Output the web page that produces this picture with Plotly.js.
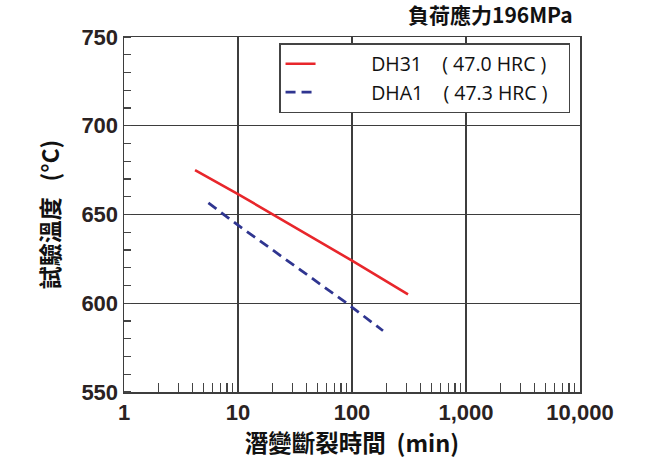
<!DOCTYPE html>
<html><head><meta charset="utf-8">
<script src="https://cdn.plot.ly/plotly-3.0.1.min.js"></script>
<style>html,body{margin:0;padding:0;background:#fff}</style>
</head><body>
<div id="chart" style="width:655px;height:468px"></div>
<script>
const NB = n => "\u00a0".repeat(n);
const seriesNames = [NB(10) + "DH31" + NB(4) + "( 47.0 HRC )" + NB(3), NB(10) + "DHA1" + NB(4) + "( 47.3 HRC )" + NB(3)];
const dh31Time = [4.2, 10, 100, 310];
const dh31Temp = [675, 661.5, 624, 605];
const dha1Time = [5.5, 10, 90, 187];
const dha1Temp = [656.5, 644, 600, 584.5];
const xTickVals = [1, 10, 100, 1000, 10000];
const xTickText = ["1", "10", "100", "1,000", "10,000"];
const yTickVals = [550, 600, 650, 700, 750];

const minorX = [];
for (let d = 1; d < 10000; d *= 10) for (let k = 2; k <= 9; k++) minorX.push(d * k);

const numFont = {family: "Liberation Sans, Arial, sans-serif", size: 22, color: "#2a2222", weight: "bold"};
const cjk = "Noto Sans CJK TC, Noto Sans CJK SC, sans-serif";

const traces = [
  {x: dh31Time, y: dh31Temp, name: seriesNames[0], mode: "lines", legendgroup: "a",
   line: {color: "#e8262b", width: 2.6}},
  {x: dha1Time, y: dha1Temp, name: seriesNames[1], mode: "lines", legendgroup: "b",
   line: {color: "#2f3590", width: 2.8, dash: "10px,6px"}}
];

const layout = {
  width: 655, height: 468,
  margin: {l: 124, r: 75, t: 37, b: 76},
  paper_bgcolor: "#fff", plot_bgcolor: "#fff",
  showlegend: true,
  legend: {x: 0.34, y: 0.983, xanchor: "left", yanchor: "top",
           bordercolor: "#444", borderwidth: 1.5, bgcolor: "#fff",
           font: {family: "Open Sans, Noto Sans, sans-serif", size: 19.5, color: "#111"},
           traceorder: "grouped", tracegroupgap: 0},
  xaxis: {type: "log", range: [0, 4], tickmode: "array", tickvals: xTickVals, ticktext: xTickText,
          ticks: "", showgrid: true, gridcolor: "#3d3d3d", gridwidth: 1.3,
          showline: true, mirror: true, linecolor: "#3d3d3d", linewidth: 1.5,
          tickfont: numFont, zeroline: false,
          minor: {tickmode: "array", tickvals: minorX, ticks: "inside", ticklen: 9, tickcolor: "#444", tickwidth: 1.2, showgrid: false},
          title: {text: "潛變斷裂時間" + NB(2) + "(min)", font: {family: cjk, size: 23.5, color: "#111", weight: "bold"}, standoff: 9}},
  yaxis: {range: [550, 750], tickmode: "array", tickvals: yTickVals,
          ticks: "", showgrid: true, gridcolor: "#3d3d3d", gridwidth: 1.3,
          showline: true, mirror: true, linecolor: "#3d3d3d", linewidth: 1.5,
          tickfont: numFont, zeroline: false,
          minor: {dtick: 10, ticks: "inside", ticklen: 7, tickcolor: "#444", tickwidth: 1.2, showgrid: false},
          title: {text: "試驗溫度" + NB(3) + "(°C)", font: {family: cjk, size: 23, color: "#111", weight: "bold"}, standoff: 15}},
  annotations: [{text: "負荷應力196MPa", xref: "paper", yref: "paper", x: 0.989, y: 1.0,
                 xanchor: "right", yanchor: "bottom", yshift: 6, showarrow: false,
                 font: {family: cjk, size: 21, color: "#111", weight: "bold"}}]
};

Plotly.newPlot("chart", traces, layout, {displayModeBar: false, staticPlot: true});
</script>
</body></html>
